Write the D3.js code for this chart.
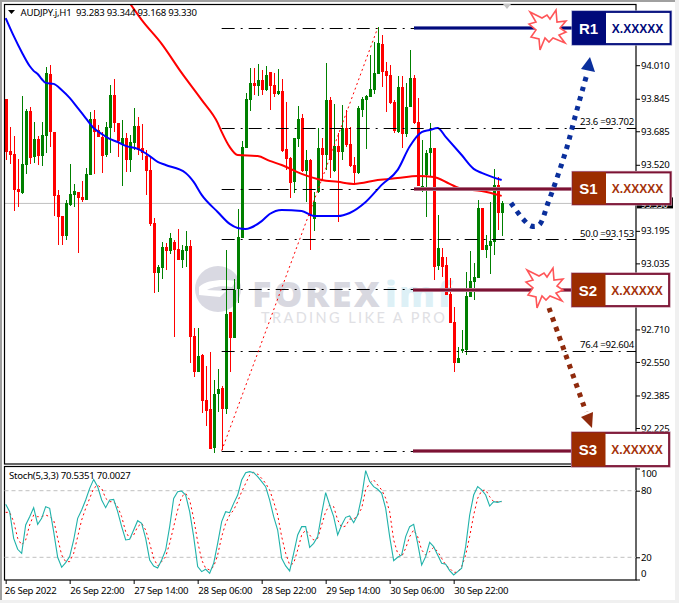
<!DOCTYPE html>
<html><head><meta charset="utf-8">
<script src="https://cdnjs.cloudflare.com/ajax/libs/d3/7.8.5/d3.min.js"></script>
<style>html,body{margin:0;padding:0;background:#fff}svg{display:block}text{font-family:"Noto Sans",sans-serif;letter-spacing:-0.25px}</style>
</head><body><script>
const highs=[93.844,93.706,93.662,93.549,93.859,93.795,93.805,93.731,93.662,93.731,
94.001,94.011,93.682,93.396,93.268,93.347,93.524,93.426,93.386,93.440,
93.504,93.780,93.790,93.716,93.682,93.731,93.913,93.942,93.726,93.741,
93.677,93.667,93.800,93.755,93.721,93.593,93.559,93.258,93.027,93.140,
93.135,93.185,93.150,93.204,93.126,93.194,93.150,92.717,92.717,92.589,
92.530,92.599,92.461,92.516,92.432,93.101,92.796,92.958,93.303,93.637,
93.873,93.996,93.996,94.016,93.987,94.006,93.977,93.972,93.992,93.942,
93.829,93.559,93.652,93.809,93.770,93.593,93.549,93.386,93.701,93.652,
94.021,93.854,93.819,93.677,93.814,93.790,93.706,93.559,93.809,93.854,
93.864,94.060,94.124,94.198,94.159,94.026,94.011,93.839,93.957,93.957,
93.923,94.085,93.962,93.849,93.642,93.593,93.726,93.603,93.273,93.111,
93.067,92.963,92.821,92.624,92.707,92.993,93.096,93.037,93.347,93.308,
93.175,93.337,93.500,93.460,93.344];
const lows=[93.544,93.524,93.293,93.313,93.376,93.475,93.524,93.529,93.519,93.514,
93.578,93.608,93.268,93.126,93.126,93.150,93.317,93.313,93.086,93.337,
93.347,93.470,93.475,93.657,93.480,93.559,93.578,93.682,93.559,93.416,
93.485,93.485,93.593,93.568,93.544,93.372,93.219,92.889,92.894,92.958,
93.003,93.081,92.673,93.052,93.012,93.017,92.545,92.476,92.501,92.299,
92.235,92.122,92.102,92.304,92.117,92.294,92.501,92.668,92.840,93.160,
93.603,93.785,93.864,93.859,93.864,93.883,93.790,93.854,93.864,93.583,
93.495,93.357,93.381,93.608,93.485,93.337,93.101,93.194,93.381,93.445,
93.495,93.455,93.485,93.239,93.544,93.608,93.509,93.421,93.475,93.755,
93.598,93.854,93.869,93.967,93.903,93.780,93.819,93.677,93.677,93.603,
93.657,93.805,93.721,93.416,93.386,93.263,93.465,92.953,93.003,92.968,
92.880,92.742,92.501,92.545,92.594,92.584,92.870,92.855,92.963,93.101,
93.062,92.983,93.076,93.199,93.168];
const opens=[93.844,93.588,93.573,93.401,93.381,93.519,93.785,93.559,93.647,93.563,
93.662,93.967,93.682,93.372,93.268,93.170,93.322,93.372,93.386,93.362,
93.347,93.470,93.746,93.691,93.657,93.568,93.701,93.864,93.726,93.618,
93.652,93.544,93.627,93.711,93.603,93.563,93.495,93.234,92.988,93.012,
93.116,93.096,93.140,93.106,93.052,93.096,93.121,92.678,92.501,92.584,
92.363,92.319,92.127,92.393,92.422,92.319,92.796,92.668,92.909,93.160,
93.603,93.839,93.923,93.908,93.937,93.888,93.977,93.913,93.869,93.883,
93.598,93.554,93.436,93.647,93.750,93.490,93.544,93.254,93.386,93.603,
93.568,93.839,93.490,93.613,93.583,93.701,93.623,93.519,93.480,93.790,
93.839,93.854,93.888,93.967,94.115,93.982,93.962,93.829,93.682,93.903,
93.672,93.805,93.947,93.731,93.406,93.470,93.578,93.603,93.022,93.067,
93.027,92.885,92.747,92.545,92.604,92.609,92.870,92.944,92.963,93.308,
93.101,93.121,93.140,93.421,93.283];
const closes=[93.583,93.568,93.396,93.386,93.524,93.785,93.554,93.647,93.563,93.667,
93.972,93.682,93.367,93.263,93.170,93.332,93.376,93.391,93.357,93.347,
93.475,93.746,93.682,93.657,93.563,93.706,93.864,93.726,93.637,93.652,
93.544,93.632,93.711,93.593,93.578,93.490,93.229,92.988,93.017,93.116,
93.096,93.160,93.101,93.052,93.101,93.121,92.673,92.501,92.579,92.358,
92.309,92.122,92.393,92.417,92.319,92.786,92.668,92.904,93.165,93.608,
93.844,93.923,93.908,93.937,93.888,93.962,93.908,93.869,93.883,93.588,
93.549,93.431,93.652,93.746,93.490,93.544,93.268,93.337,93.603,93.568,
93.839,93.544,93.613,93.583,93.701,93.618,93.514,93.480,93.800,93.844,
93.859,93.893,93.972,94.119,93.977,93.957,93.824,93.686,93.903,93.672,
93.805,93.947,93.726,93.416,93.416,93.578,93.603,93.017,93.111,93.017,
92.880,92.742,92.545,92.570,92.614,92.875,92.948,92.968,93.308,93.101,
93.126,93.145,93.421,93.283,93.330];
const blueBars=[0,2,4,6,7,8,9,10,12,14,16,18,20,22,24,26,28,30,33,36,38,40,45,47,49,53,56,58,60,64,66,69,74,77,83,86,90,94,98,101,104,106,108,110,114,117,119,124];
const blueVals=[94.242,94.154,94.075,94.006,93.982,93.967,93.942,93.923,93.918,93.888,93.849,93.800,93.750,93.701,93.672,93.647,93.632,93.613,93.598,93.563,93.534,93.519,93.480,93.436,93.372,93.288,93.229,93.209,93.204,93.243,93.278,93.298,93.293,93.268,93.268,93.283,93.337,93.421,93.495,93.610,93.681,93.691,93.701,93.657,93.568,93.500,93.480,93.445];
const redBars=[31,34,39,44,49,53,54,56,58,63,66,69,74,79,83,87,93,98,103,107,111,114,119,124];
const redVals=[94.316,94.233,94.115,93.972,93.839,93.726,93.682,93.608,93.568,93.563,93.539,93.519,93.475,93.445,93.436,93.426,93.445,93.455,93.465,93.460,93.426,93.401,93.391,93.367];
const stochMain=[67.7,61.1,37.1,27.2,23.6,49.1,56.6,64.7,49.7,55.1,65.6,64.1,43.1,20.0,11.0,15.2,20.6,35.6,55.1,62.6,71.6,82.1,90.2,83.6,71.6,64.7,71.6,72.2,61.1,47.6,35.6,36.2,44.6,53.0,50.6,37.1,17.6,12.2,10.4,17.6,26.6,47.6,73.1,79.1,79.7,76.1,61.1,38.6,11.6,7.1,9.2,5.6,14.6,32.6,52.1,61.1,60.2,68.6,76.1,89.6,96.2,97.2,96.2,92.6,88.1,83.6,71.6,56.6,44.6,19.1,12.2,7.7,23.6,40.1,47.6,47.6,29.0,32.6,38.6,59.6,78.2,67.1,56.6,40.1,
49.1,56.0,57.2,51.2,58.1,74.6,98.1,88.2,83.7,81.3,77.7,64.1,38.6,17.0,20.0,22.1,38.6,47.6,49.7,32.6,13.1,20.6,33.5,29.6,22.1,14.6,13.7,8.0,4.1,7.1,10.1,29.6,58.1,76.1,83.7,80.7,76.1,66.2,70.1,69.5,70.5351];
const stochSignal=[60.5,60.5,52.1,37.1,31.1,35.6,49.1,58.1,56.6,56.6,58.1,56.6,53.6,37.1,22.1,16.1,16.1,23.6,38.6,53.6,64.1,73.1,82.1,85.1,82.1,73.1,70.1,70.1,65.6,56.6,43.1,37.1,40.1,47.6,50.6,44.6,32.6,19.1,12.2,16.1,20.6,32.6,47.6,62.6,74.6,77.6,71.6,55.1,34.1,17.6,10.1,8.6,11.6,22.1,38.6,50.6,58.1,62.6,70.1,79.1,86.6,94.1,96.6,95.0,91.1,86.6,80.6,70.1,58.1,38.6,23.6,13.1,14.6,26.6,40.1,44.6,40.1,35.6,37.1,49.1,61.1,67.1,65.6,53.6,
47.0,48.2,54.5,54.2,58.1,64.1,80.7,86.7,89.7,85.2,80.7,73.2,61.1,35.6,23.6,20.6,28.1,38.6,44.6,38.6,26.6,22.1,25.1,29.0,25.1,19.1,13.1,10.1,6.5,6.5,11.6,22.1,38.6,58.1,73.2,80.0,80.7,74.6,70.1,70.1,70.0027];
const priceTicks=[94.175,94.010,93.845,93.685,93.520,93.360,93.195,93.035,92.870,92.710,92.550,92.385,92.225];
const coveredTicks=[94.175,93.360,92.870];
const timeBars=[0,16,32,48,64,80,96,112];
const timeLabels=["26 Sep 2022","26 Sep 22:00","27 Sep 14:00","28 Sep 06:00","28 Sep 22:00","29 Sep 14:00","30 Sep 06:00","30 Sep 22:00"];
const stochTicks=[100,80,20,0];
const fibHigh=94.193, fibLow=92.113, fibPeakBar=93, fibStartBar=54;
const fibLevels=[0,0.236,0.382,0.5,0.618,0.764,1];
const fibTexts=[["23.6 =93.702",93.702],["50.0 =93.153",93.153],["76.4 =92.604",92.604]];
const lastPrice=93.330;
const title="AUDJPY.j,H1\u00A0\u00A093.283 93.344 93.168 93.330";
const stochTitle="Stoch(5,3,3) 70.5351 70.0027";
const levels=[{name:"R1",v:94.193,dark:"#00097A",line:"#000A7C",halo:"#8C90C4",text:"#00097A",x0:414,bx:573,by:12,bw:97.5,bh:32},
{name:"S1",v:93.40,dark:"#9C2C00",line:"#7C1233",halo:"#C08EA0",text:"#A5330A",x0:414,bx:573,by:172.5,bw:97.5,bh:31.5},
{name:"S2",v:92.905,dark:"#9C2C00",line:"#7C1233",halo:"#C08EA0",text:"#A5330A",x0:413,bx:572.5,by:274,bw:96.5,bh:32},
{name:"S3",v:92.113,dark:"#9C2C00",line:"#7C1233",halo:"#C08EA0",text:"#A5330A",x0:413,bx:572.5,by:433,bw:96.5,bh:33}];

const W=679,H=603,L=4.5,R=636,T=4.5,B=464,T2=466.5,B2=580,FS=9.6;
const svg=d3.select("body").append("svg").attr("width",W).attr("height",H).attr("viewBox",[0,0,W,H]);
svg.append("defs").append("clipPath").attr("id","pc").append("rect").attr("x",L).attr("y",T).attr("width",R-L).attr("height",B-T);
const x=d3.scaleLinear().domain([0,124]).range([5.67,501.67]);
const y=d3.scaleLinear().domain([92.225,94.010]).range([428,65.2]);
const ys=d3.scaleLinear().domain([0,100]).range([579.5,468.5]);
// window
svg.append("rect").attr("width",W).attr("height",H).attr("fill","#fff");
svg.append("rect").attr("width",2).attr("height",H).attr("fill","#A0A0A0");
svg.append("rect").attr("width",W).attr("height",2).attr("fill","#A0A0A0");
svg.append("rect").attr("x",675).attr("width",4).attr("height",H).attr("fill","#F0F0F0");
svg.append("rect").attr("y",600).attr("width",W).attr("height",3).attr("fill","#F0F0F0");
// watermark
const wm=svg.append("g");
wm.append("circle").attr("cx",218).attr("cy",289).attr("r",23).attr("fill","#D9D9E2");
wm.append("path").attr("d","M199 287 C206 280 222 279 236 281 L232 287 C222 285 212 287 207 290 L226 291 L220 297 L199 295 Z").attr("fill","#fff");
wm.append("text").attr("x",252).attr("y",307).attr("font-size",36).attr("font-weight",800).attr("fill","#D8D8E0").style("letter-spacing","2.4px").style("font-family","'Open Sans',sans-serif").text("FOREX");
wm.append("text").attr("x",385).attr("y",307).attr("font-size",36).attr("font-weight",800).attr("fill","#DDF0F6").style("letter-spacing","2.4px").style("font-family","'Open Sans',sans-serif").text("imf");
wm.append("text").attr("x",261).attr("y",323).attr("font-size",14.5).attr("fill","#E0E0E4").style("letter-spacing","2.4px").style("font-family","Lato,sans-serif").text("TRADING LIKE A PRO");
// current price line
svg.append("line").attr("x1",L).attr("x2",R).attr("y1",y(lastPrice)).attr("y2",y(lastPrice)).attr("stroke","#C0C0C0");
const plot=svg.append("g").attr("clip-path","url(#pc)");
// candles
const bars=d3.range(highs.length);
const col=i=>closes[i]>=opens[i]?"#008000":"#FF0000";
const cg=plot.append("g").attr("shape-rendering","crispEdges");
cg.selectAll(".w").data(bars).join("rect").attr("x",i=>Math.round(x(i))-0.5).attr("width",1).attr("y",i=>y(highs[i])).attr("height",i=>y(lows[i])-y(highs[i])).attr("fill",col);
cg.selectAll(".b").data(bars).join("rect").attr("x",i=>Math.round(x(i))-1.5).attr("width",3).attr("y",i=>y(Math.max(opens[i],closes[i]))).attr("height",i=>Math.max(1,Math.abs(y(opens[i])-y(closes[i])))).attr("fill",col);
// MAs
const ln=d3.line().curve(d3.curveMonotoneX).x(d=>x(d[0])).y(d=>y(d[1]));
plot.append("path").attr("d",ln(redBars.map((b,i)=>[b,redVals[i]]))).attr("fill","none").attr("stroke","#FF0000").attr("stroke-width",2);
plot.append("path").attr("d",ln(blueBars.map((b,i)=>[b,blueVals[i]]))).attr("fill","none").attr("stroke","#0000FF").attr("stroke-width",2);
// fibonacci
fibLevels.forEach(f=>{const p=fibHigh-(fibHigh-fibLow)*f;
 plot.append("line").attr("x1",x(fibStartBar)).attr("x2",R).attr("y1",Math.round(y(p))+.5).attr("y2",Math.round(y(p))+.5).attr("stroke","#000").attr("stroke-dasharray","13 6 2 6");});
plot.append("line").attr("x1",x(fibStartBar)).attr("y1",y(fibLow)).attr("x2",x(fibPeakBar)).attr("y2",y(fibHigh)).attr("stroke","#FF0000").attr("stroke-dasharray","2 3");
fibTexts.forEach(t=>svg.append("text").attr("x",634).attr("y",y(t[1])-2.5).attr("text-anchor","end").attr("font-size",FS).text(t[0]));
// frames
svg.append("rect").attr("x",L).attr("y",T).attr("width",R-L).attr("height",B-T).attr("fill","none").attr("stroke","#000").attr("stroke-width",1.2);
svg.append("rect").attr("x",L).attr("y",T2).attr("width",R-L).attr("height",B2-T2).attr("fill","none").attr("stroke","#000").attr("stroke-width",1.2);
// axes
const ay=svg.append("g").attr("transform",`translate(${R},0)`).call(d3.axisRight(y).tickValues(priceTicks).tickFormat(d=>coveredTicks.includes(d)?"":d3.format(".3f")(d)).tickSize(4).tickPadding(1));
ay.select(".domain").remove();ay.selectAll("text").attr("font-size",FS).attr("fill","#000").style("font-family","'Noto Sans',sans-serif");
svg.append("rect").attr("x",637).attr("y",y(lastPrice)-6).attr("width",36).attr("height",11).attr("fill","#000");
svg.append("text").attr("x",641).attr("y",y(lastPrice)+4.5).attr("font-size",9).attr("fill","#fff").text(lastPrice.toFixed(3));
const ax=svg.append("g").attr("transform",`translate(0,${B2})`).call(d3.axisBottom(x).tickValues(timeBars).tickFormat((d,i)=>timeLabels[i]).tickSize(4).tickPadding(3));
ax.select(".domain").remove();ax.selectAll("text").attr("font-size",FS).attr("fill","#000").attr("text-anchor","start").style("font-family","'Noto Sans',sans-serif");
ax.selectAll("text").filter((d,i)=>i===0).attr("x",-1.5);
// Stochastic
[80,20].forEach(v=>svg.append("line").attr("x1",L).attr("x2",R).attr("y1",ys(v)).attr("y2",ys(v)).attr("stroke","#C0C0C0").attr("stroke-dasharray","4 3"));
const ls=d3.line().x((d,i)=>x(i)).y(d=>ys(d));
svg.append("path").attr("d",ls(stochSignal)).attr("fill","none").attr("stroke","#FF0000").attr("stroke-dasharray","2 3");
svg.append("path").attr("d",ls(stochMain)).attr("fill","none").attr("stroke","#20B2AA").attr("stroke-width",1.1);
const as=svg.append("g").attr("transform",`translate(${R},0)`).call(d3.axisRight(ys).tickValues(stochTicks).tickSize(4).tickPadding(1));
as.select(".domain").remove();as.selectAll("text").attr("font-size",FS).attr("fill","#000").style("font-family","'Noto Sans',sans-serif")
 .attr("dy","0.32em").attr("y",d=>d===100?4.5:d===0?-6:0);
// titles
svg.append("path").attr("d","M8 10 L15 10 L11.5 14 Z").attr("fill","#000");
svg.append("text").attr("x",20.5).attr("y",16).attr("font-size",FS).text(title);
svg.append("text").attr("x",9).attr("y",479).attr("font-size",FS).text(stochTitle);
svg.append("path").attr("d","M503 4 L511 4 L507 9 Z").attr("fill","#C4C4C4");
// levels
const an=svg.append("g");
levels.forEach(l=>{const yy=Math.round(y(l.v));
 an.append("line").attr("x1",l.x0).attr("x2",l.bx).attr("y1",yy).attr("y2",yy).attr("stroke",l.halo).attr("stroke-width",4);
 an.append("line").attr("x1",l.x0).attr("x2",l.bx).attr("y1",yy).attr("y2",yy).attr("stroke",l.line).attr("stroke-width",2.4);
 an.append("rect").attr("x",l.bx).attr("y",l.by).attr("width",l.bw).attr("height",l.bh).attr("fill","#fff").attr("stroke",l.halo).attr("stroke-width",3.2);
 an.append("rect").attr("x",l.bx).attr("y",l.by).attr("width",l.bw).attr("height",l.bh).attr("fill","#fff").attr("stroke",l.line).attr("stroke-width",1.8);
 an.append("rect").attr("x",l.bx-.5).attr("y",l.by-.5).attr("width",33.5).attr("height",l.bh+1).attr("fill",l.dark);
 an.append("text").attr("x",l.bx+15.5).attr("y",l.by+l.bh/2+5.5).attr("text-anchor","middle").attr("font-size",15).attr("font-weight",700).attr("fill","#fff").style("letter-spacing","0").style("font-family","'Liberation Sans',sans-serif").text(l.name);
 an.append("text").attr("x",l.bx+64.5).attr("y",l.by+l.bh/2+4.5).attr("text-anchor","middle").attr("font-size",12).attr("font-weight",700).attr("fill",l.text).style("letter-spacing","0").style("font-family","'Liberation Sans',sans-serif").text("X.XXXXX");
});
// stars
const star=[[-18,-17],[-6,-11],[-1,-14],[2,-10],[8,-19],[9,-7],[18,-8],[12,-1],[18,3],[11,6],[17,14],[5,9],[1,13],[-3,9],[-8,21],[-9,10],[-17,8],[-12,1],[-19,-5],[-12,-7]];
[[548,29],[545,287]].forEach(c=>an.append("polygon").attr("points",star.map(p=>[c[0]+p[0],c[1]+p[1]].join(",")).join(" ")).attr("fill","#fff").attr("stroke","#FF5558").attr("stroke-width",1.6));
// arrows
const curve=d3.line().curve(d3.curveCatmullRom);
an.append("path").attr("d",curve([[511,203],[523,219],[531,226],[539,225],[548,203],[558,175],[567,147],[575,117],[583,88],[587,74]])).attr("fill","none").attr("stroke","#0A2F9C").attr("stroke-width",5).attr("stroke-dasharray","4.5 5.5");
an.append("polygon").attr("points","590,57 581,69 595,72").attr("fill","#0A2F9C");
an.append("path").attr("d",curve([[549,308],[559,336],[569,364],[586,412]])).attr("fill","none").attr("stroke","#8F2A0C").attr("stroke-width",5).attr("stroke-dasharray","4.5 5.5");
an.append("polygon").attr("points","592,428 581,417 593,412").attr("fill","#8F2A0C");
</script></body></html>
